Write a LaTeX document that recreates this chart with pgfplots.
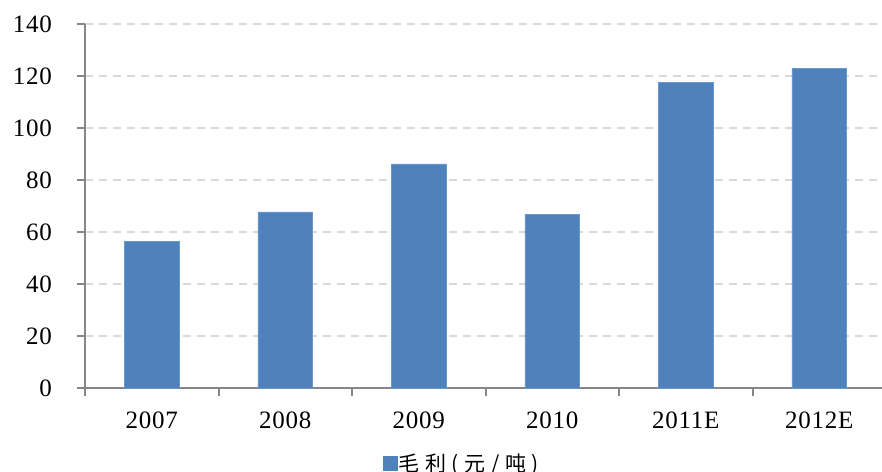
\documentclass[border=0pt]{standalone}
\usepackage{fontspec}
\setmainfont{Liberation Serif}[LetterSpace=3]
\newfontfamily\cjk{Noto Sans CJK SC}[LetterSpace=27]
\usepackage{pgfplots}
\pgfplotsset{compat=1.18}
\definecolor{barblue}{HTML}{4F81BD}
\definecolor{baredge}{HTML}{6C95CA}
\definecolor{axisgray}{HTML}{868686}
\definecolor{gridgray}{HTML}{D9D9D9}
\begin{document}
\begin{tikzpicture}
\begin{axis}[
  scale only axis, width=797bp, height=364bp,
  xmin=-0.5, xmax=5.47, ymin=0, ymax=140,
  axis x line*=bottom, axis y line*=left,
  axis line style={axisgray, line width=2bp, -},
  ytick={0,20,...,140},
  xtick={0,...,5},
  xticklabels={2007,2008,2009,2010,2011E,2012E},
  minor xtick={-0.5,0.5,...,4.5},
  major x tick style={draw=none},
  tick align=outside,
  major tick length=8bp, minor tick length=8bp,
  every tick/.style={axisgray, line width=2bp},
  ymajorgrids,
  grid style={gridgray, line width=2bp, dash pattern=on 8bp off 6bp},
  /pgf/number format/assume math mode=true,
  tick label style={font=\fontsize{25bp}{25bp}\selectfont},
  yticklabel style={anchor=east, inner sep=0pt, xshift=-25bp},
  xticklabel style={anchor=north, inner sep=0pt, yshift=-16bp},
  legend style={draw=none, fill=none, inner sep=0pt, outer sep=0pt,
    at={(0.3739,-0.206)}, anchor=west,
    nodes={inner sep=1bp, font=\cjk\fontsize{21bp}{21bp}\selectfont}},
]
\addplot[ybar, bar width=0.41, fill=barblue, draw=baredge, line width=0.6bp,
  legend image code/.code={\fill[barblue] (0bp,-7bp) rectangle (14bp,7bp);}]
  coordinates {(0,56.3) (1,67.7) (2,86.2) (3,66.9) (4,117.6) (5,123.0)};
\addlegendentry{毛利(元/吨)}
\end{axis}
\pgfresetboundingbox
\path[use as bounding box] (-85bp,-84bp) rectangle (797bp,388bp);
\end{tikzpicture}
\end{document}
